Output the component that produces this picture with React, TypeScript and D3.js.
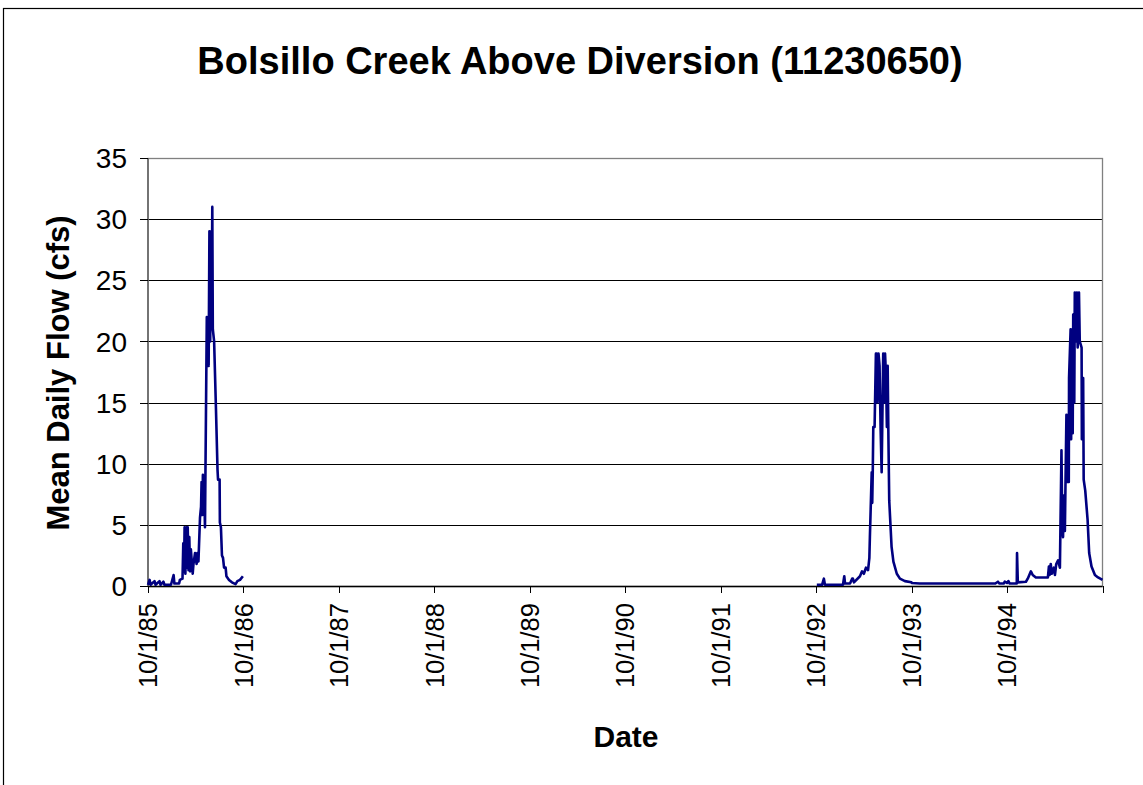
import React from 'react';
import * as d3 from 'd3';

// Mean daily flow, Bolsillo Creek above diversion (USGS 11230650).
// Each water year: day offset from Oct 1 and flow in cfs.
const wy1986Day = [0, 6, 10, 25, 29, 44, 48, 59, 63, 88, 98, 101, 119, 122, 132, 135, 138, 140, 143, 147, 149, 152, 155, 158, 161, 164, 171, 174, 180, 186, 189, 193, 199, 203, 205, 208, 210, 212, 215, 218, 225, 227, 230, 232, 235, 238, 241, 243, 246, 248, 253, 260, 266, 268, 274, 275, 279, 283, 287, 291, 297, 300, 310, 321, 335, 342, 352, 363];
const wy1986Flow = [0.1, 0.5, 0.1, 0.4, 0.1, 0.4, 0.1, 0.35, 0.1, 0.1, 0.9, 0.2, 0.2, 0.5, 0.6, 3.5, 1.2, 4.8, 1.0, 4.8, 1.5, 4.8, 1.3, 4.0, 1.2, 3.0, 1.0, 1.8, 2.7, 1.8, 2.7, 2.0, 5.6, 6.5, 8.5, 5.8, 9.1, 6.5, 8.0, 4.8, 22, 18, 22, 18, 29, 20, 29, 21, 31, 21, 20, 14.5, 9.5, 8.7, 8.7, 5.2, 4.8, 2.5, 2.3, 1.5, 1.5, 0.8, 0.5, 0.3, 0.15, 0.4, 0.5, 0.8];

const wy1993Day = [2, 22, 29, 33, 72, 102, 107, 110, 129, 137, 140, 144, 167, 175, 182, 190, 198, 203, 205, 212, 214, 216, 218, 223, 228, 231, 234, 238, 242, 246, 250, 256, 260, 263, 267, 270, 273, 276, 279, 288, 295, 308, 320, 339, 364];
const wy1993Flow = [0.1, 0.1, 0.6, 0.1, 0.1, 0.1, 0.8, 0.2, 0.2, 0.6, 0.6, 0.3, 0.8, 1.2, 1.0, 1.5, 1.3, 2.3, 4.0, 9.3, 6.8, 9.3, 13, 13, 19, 19, 15, 19, 18, 12.9, 9.3, 19, 15, 19, 17, 13, 18, 12, 7, 3.2, 2.0, 1.0, 0.6, 0.4, 0.3];

const wy1994Day = [0, 30, 90, 150, 210, 270, 320, 330, 336, 352, 356, 364];
const wy1994Flow = [0.25, 0.2, 0.2, 0.2, 0.2, 0.2, 0.2, 0.35, 0.2, 0.2, 0.35, 0.25];

const wy1995Day = [0, 5, 10, 37, 38, 41, 72, 79, 91, 98, 110, 156, 160, 163, 167, 171, 179, 183, 188, 195, 202, 208, 211, 214, 217, 221, 227, 230, 233, 236, 237, 243, 245, 249, 251, 253, 257, 259, 263, 267, 270, 275, 278, 285, 286, 288, 290, 291, 293, 299, 308, 314, 323, 336, 348, 365];
const wy1995Flow = [0.25, 0.4, 0.2, 0.2, 2.7, 0.3, 0.35, 0.6, 1.2, 0.9, 0.7, 0.7, 1.6, 0.9, 1.8, 1.0, 1.5, 0.9, 1.8, 2.1, 1.5, 11.1, 5.0, 4.0, 7.4, 4.5, 14, 8.5, 14, 8.5, 17, 21, 12, 21, 12.5, 22.2, 15, 24, 20, 24, 19.5, 24, 20, 19.5, 12, 17, 12.1, 17, 8.7, 7.8, 5.4, 2.7, 1.6, 0.9, 0.7, 0.5];

const yTicks = [0, 5, 10, 15, 20, 25, 30, 35];
const xTickLabels = ['10/1/85', '10/1/86', '10/1/87', '10/1/88', '10/1/89', '10/1/90', '10/1/91', '10/1/92', '10/1/93', '10/1/94'];

type Pt = { date: Date; flow: number } | null;

function waterYear(startYear: number, days: number[], flows: number[]): Pt[] {
  const start = new Date(startYear, 9, 1);
  return days.map((d, i) => ({ date: d3.timeDay.offset(start, d), flow: flows[i] }));
}

// Records between water years 1986 and 1993 are missing, so the line breaks there.
const series: Pt[] = [
  ...waterYear(1985, wy1986Day, wy1986Flow),
  null,
  ...waterYear(1992, wy1993Day, wy1993Flow),
  ...waterYear(1993, wy1994Day, wy1994Flow),
  ...waterYear(1994, wy1995Day, wy1995Flow),
];

export default function App() {
  const W = 1143;
  const H = 785;
  const left = 148;
  const right = 1102.5;
  const top = 158;
  const bottom = 586;
  const font = '"Liberation Sans", Arial, sans-serif';

  const x = d3.scaleTime().domain([new Date(1985, 9, 1), new Date(1995, 9, 1)]).range([left, right]);
  const y = d3.scaleLinear().domain([0, 35]).range([bottom, top]);
  const tickDates = d3.range(0, 11).map((k) => new Date(1985 + k, 9, 1));

  const line = d3
    .line<Pt>()
    .defined((d) => d !== null)
    .x((d) => x((d as any).date))
    .y((d) => y((d as any).flow));

  return (
    <svg width={W} height={H} style={{ position: 'absolute', left: 0, top: 0, background: '#fff' }} fontFamily={font}>
      {/* chart frame */}
      <rect x={3.5} y={8.5} width={1300} height={900} fill="#fff" stroke="#000" strokeWidth={1.2} />

      <text x={580} y={74} textAnchor="middle" fontSize={38} fontWeight="bold">
        Bolsillo Creek Above Diversion (11230650)
      </text>

      {/* gridlines */}
      {yTicks.filter((t) => t > 0 && t < 35).map((t) => (
        <line key={t} x1={left} x2={right} y1={Math.round(y(t)) + 0.5} y2={Math.round(y(t)) + 0.5} stroke="#000" strokeWidth={1} />
      ))}
      {/* plot border */}
      <rect x={left} y={top + 0.5} width={right - left} height={bottom - top} fill="none" stroke="#808080" strokeWidth={1.3} />
      <line x1={left} x2={left} y1={top} y2={bottom} stroke="#555" strokeWidth={1.3} />
      <line x1={left} x2={right} y1={bottom + 0.5} y2={bottom + 0.5} stroke="#000" strokeWidth={1.3} />

      {/* y axis */}
      {yTicks.map((t) => (
        <g key={t}>
          <line x1={left - 8} x2={left} y1={Math.round(y(t)) + 0.5} y2={Math.round(y(t)) + 0.5} stroke="#000" />
          <text x={127} y={y(t)} dy="0.36em" textAnchor="end" fontSize={28}>
            {t}
          </text>
        </g>
      ))}
      <text transform={`translate(69,${(top + bottom) / 2 + 1}) rotate(-90)`} textAnchor="middle" fontSize={31} fontWeight="bold">
        Mean Daily Flow (cfs)
      </text>

      {/* x axis */}
      {tickDates.map((d, i) => (
        <g key={i}>
          <line x1={Math.round(x(d)) + 0.5} x2={Math.round(x(d)) + 0.5} y1={bottom} y2={bottom + 7} stroke="#000" />
          {i < xTickLabels.length && (
            <text transform={`translate(${x(d)},${bottom + 17}) rotate(-90)`} dy="0.36em" textAnchor="end" fontSize={25.5}>
              {xTickLabels[i]}
            </text>
          )}
        </g>
      ))}
      <text x={626} y={747} textAnchor="middle" fontSize={30} fontWeight="bold">
        Date
      </text>

      <path d={line(series) || ''} fill="none" stroke="#000080" strokeWidth={2.6} strokeLinejoin="round" />
    </svg>
  );
}
